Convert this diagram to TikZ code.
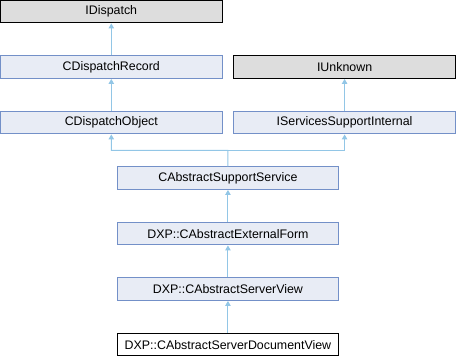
\documentclass[tikz,border=0pt]{standalone}
\usepackage{fontspec}
\setmainfont{Liberation Sans}
\usepackage{xcolor}
\usetikzlibrary{arrows.meta, positioning, calc}

\definecolor{clsfill}{HTML}{E8ECF5}
\definecolor{clsdraw}{HTML}{7390C8}
\definecolor{extfill}{HTML}{DDDDDD}
\definecolor{edgeblue}{HTML}{92C6E6}

\begin{document}
\begin{tikzpicture}[
    x=1pt, y=1pt,
    node distance=32pt and 10.8pt,
    cls/.style={rectangle, draw=clsdraw, fill=clsfill, line width=1pt, minimum width=221.5pt, minimum height=22.5pt, inner sep=0pt, align=center, font=\fontsize{12.4}{15}\selectfont},
    ext/.style={cls, draw=black, fill=extfill},
    cur/.style={cls, draw=black, fill=white},
    edge/.style={-{Triangle[length=5pt, width=5.5pt]}, line width=1pt, edgeblue}
]
\useasboundingbox (0,0) rectangle (456,360);

% base classes
\node[ext] (idisp) at (111.3,348.3) {IDispatch};
\node[cls, below=of idisp] (rec) {CDispatchRecord};
\node[cls, below=of rec] (obj) {CDispatchObject};
\node[ext, right=of rec] (iunk) {IUnknown};
\node[cls, below=of iunk] (ssi) {IServicesSupportInternal};

% derived chain
\coordinate (mid) at ($(obj.south)!0.5!(ssi.south)$);
\node[cls, below=of mid] (svc) {CAbstractSupportService};
\node[cls, below=of svc] (form) {DXP::CAbstractExternalForm};
\node[cls, below=of form] (view) {DXP::CAbstractServerView};
\node[cur, below=of view] (docview) {DXP::CAbstractServerDocumentView};

% arrows
\draw[edge] (rec) -- (idisp);
\draw[edge] (obj) -- (rec);
\draw[edge] (ssi) -- (iunk);
\coordinate (mrg) at ($(mid)!0.5!(svc.north)$);
\draw[edge] (svc.north) -- (mrg) -| (obj.south);
\draw[edge] (mrg) -| (ssi.south);
\draw[edge] (form) -- (svc);
\draw[edge] (view) -- (form);
\draw[edge] (docview) -- (view);

\end{tikzpicture}
\end{document}
